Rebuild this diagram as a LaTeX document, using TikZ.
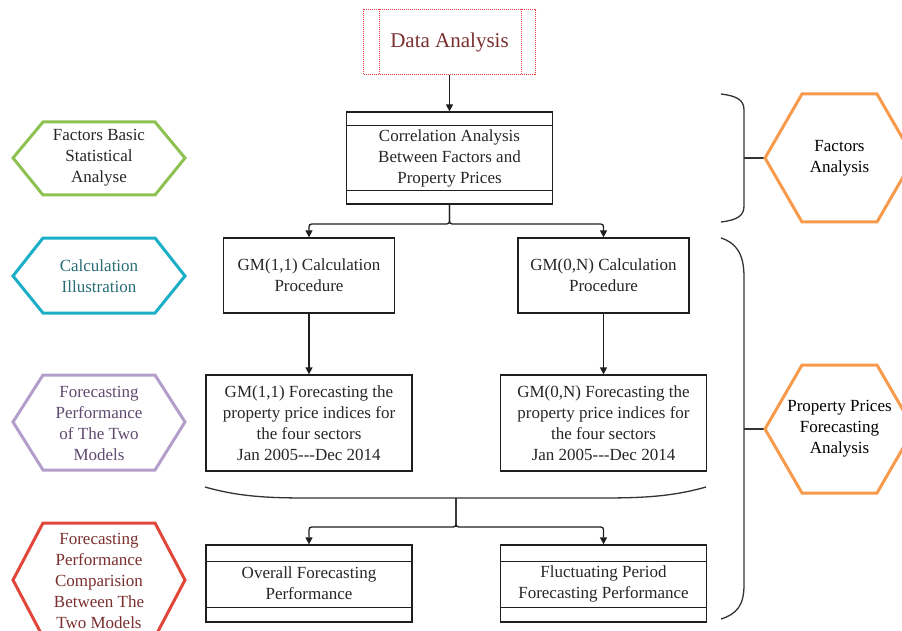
\documentclass[tikz,border=0pt]{standalone}
\usepackage{fontspec}
\setmainfont{Liberation Serif}
\usetikzlibrary{arrows.meta}
\definecolor{hgreen}{RGB}{141,193,82}
\definecolor{hcyan}{RGB}{27,175,199}
\definecolor{hpurple}{RGB}{179,157,203}
\definecolor{hred}{RGB}{224,71,58}
\definecolor{horange}{RGB}{247,154,75}
\definecolor{tcyan}{RGB}{40,108,118}
\definecolor{tpurple}{RGB}{96,74,112}
\definecolor{tred}{RGB}{122,46,46}
\definecolor{dred}{RGB}{226,60,60}
\newcommand\fs{\fontsize{17}{21}\selectfont}
\tikzset{
  box/.style={draw=black!88, line width=1.3pt, inner sep=0pt, align=center, font=\fs, text=black!85},
  inline/.style={draw=black!88, line width=1.3pt},
  datab/.style={draw=dred, line width=1pt, dash pattern=on 1pt off 1pt, inner sep=0pt, minimum width=172pt, minimum height=65pt, text=tred, font=\fontsize{21}{25}\selectfont},
  reddot/.style={draw=dred, line width=1pt, dash pattern=on 1pt off 1pt},
  hexa/.style={line width=3pt, line join=miter},
  htxt/.style={align=center, font=\fs, inner sep=0pt},
  conn/.style={draw=black!88, line width=1.3pt, -{Triangle[length=7pt,width=7pt]}},
  bracel/.style={draw=black!80, line width=1.3pt},
}
\begin{document}
\begin{tikzpicture}[x=1pt,y=-1pt]
\useasboundingbox (0,0) rectangle (902,631);
\clip (0,0) rectangle (902,631);

% ---- central column boxes
\node[datab] (data) at (449.5,42.5) {Data Analysis};
\draw[reddot] ([xshift=16pt]data.north west) -- ([xshift=16pt]data.south west);
\draw[reddot] ([xshift=-15pt]data.north east) -- ([xshift=-15pt]data.south east);

\node[box, minimum width=206pt, minimum height=92pt] (corr) at (449.5,158) {Correlation Analysis\\Between Factors and\\Property Prices};
\draw[inline] ([yshift=-14pt]corr.north west) -- ([yshift=-14pt]corr.north east);
\draw[inline] ([yshift=14pt]corr.south west) -- ([yshift=14pt]corr.south east);

\node[box, minimum width=171pt, minimum height=75pt] (gm1) at (309,275.5) {GM(1,1) Calculation\\Procedure};
\node[box, minimum width=171pt, minimum height=75pt] (gm2) at (603.5,275.5) {GM(0,N) Calculation\\Procedure};

\node[box, minimum width=206pt, minimum height=96pt] (fc1) at (309,423) {GM(1,1) Forecasting the\\property price indices for\\the four sectors\\Jan 2005-{}-{}-Dec 2014};
\node[box, minimum width=206pt, minimum height=96pt] (fc2) at (603.5,423) {GM(0,N) Forecasting the\\property price indices for\\the four sectors\\Jan 2005-{}-{}-Dec 2014};

\node[box, minimum width=206pt, minimum height=77pt] (ov) at (309,583.5) {Overall Forecasting\\Performance};
\draw[inline] ([yshift=-17pt]ov.north west) -- ([yshift=-17pt]ov.north east);
\draw[inline] ([yshift=15pt]ov.south west) -- ([yshift=15pt]ov.south east);
\node[box, minimum width=206pt, minimum height=77pt] (fl) at (603.5,583.5) {Fluctuating Period\\Forecasting Performance};
\draw[inline] ([yshift=-17pt]fl.north west) -- ([yshift=-17pt]fl.north east);
\draw[inline] ([yshift=15pt]fl.south west) -- ([yshift=15pt]fl.south east);

% ---- connectors
\draw[conn] (data.south) -- (corr.north);
\coordinate (f1) at (449.5,218);
\draw[conn] (corr.south) -- (f1) .. controls (449.5,224) .. (443.5,224) -- (315,224) .. controls (309,224) .. (309,230) -- (gm1.north);
\draw[conn] (corr.south) -- (f1) .. controls (449.5,224) .. (455.5,224) -- (597.5,224) .. controls (603.5,224) .. (603.5,230) -- (gm2.north);
\draw[conn] (gm1.south) -- (fc1.north);
\draw[conn] (gm2.south) -- (fc2.north);

\coordinate (wbl) at (205,487);
\coordinate (wbr) at (706,487);
\draw[bracel] (wbl) .. controls (240,497) and (270,498) .. (310,498) -- (600,498) .. controls (640,498) and (671,497) .. (wbr);
\coordinate (f2) at (456,498);
\coordinate (f2b) at (456,521);
\draw[conn] (f2) -- (f2b) .. controls (456,527) .. (450,527) -- (315,527) .. controls (309,527) .. (309,533) -- (ov.north);
\draw[conn] (f2) -- (f2b) .. controls (456,527) .. (462,527) -- (597.5,527) .. controls (603.5,527) .. (603.5,533) -- (fl.north);

% ---- right braces
\coordinate (hfL) at (765,158);
\coordinate (hpL) at (765,429);
\draw[bracel] (721,94) .. controls (737,96) and (744,100) .. (744,110) -- (744,206) .. controls (744,216) and (737,220) .. (721,222);
\draw[bracel] (744,158) -- (hfL);
\draw[bracel] (721,238) .. controls (737,243) and (744,255) .. (744,277) -- (744,585) .. controls (744,605) and (737,614) .. (721,619);
\draw[bracel] (744,429) -- (hpL);

% ---- orange hexagons
\draw[hexa, draw=horange] (hfL) -- (802,94) -- (877,94) -- (914,158) -- (877,222) -- (802,222) -- cycle;
\node[htxt] (hf) at (839.5,158) {Factors\\Analysis};
\draw[hexa, draw=horange] (hpL) -- (802,365) -- (877,365) -- (914,429) -- (877,493) -- (802,493) -- cycle;
\node[htxt] (hp) at (839.5,429) {Property Prices\\Forecasting\\Analysis};

% ---- left hexagons
\draw[hexa, draw=hgreen] (13,158) -- (43,122) -- (155,122) -- (185,158) -- (155,195) -- (43,195) -- cycle;
\node[htxt, text=black!85] (hg) at (99,158) {Factors Basic\\Statistical\\Analyse};
\draw[hexa, draw=hcyan] (13,276) -- (43,238) -- (155,238) -- (185,276) -- (155,313) -- (43,313) -- cycle;
\node[htxt, text=tcyan] (hc) at (99,276) {Calculation\\Illustration};
\draw[hexa, draw=hpurple] (13,422) -- (43,375) -- (155,375) -- (185,422) -- (155,470) -- (43,470) -- cycle;
\node[htxt, text=tpurple] (hpu) at (99,423) {Forecasting\\Performance\\of The Two\\Models};
\draw[hexa, draw=hred] (13,580) -- (43,523) -- (155,523) -- (185,580) -- (155,637) -- (43,637) -- cycle;
\node[htxt, text=tred] (hr) at (99,580.5) {Forecasting\\Performance\\Comparision\\Between The\\Two Models};
\end{tikzpicture}
\end{document}
